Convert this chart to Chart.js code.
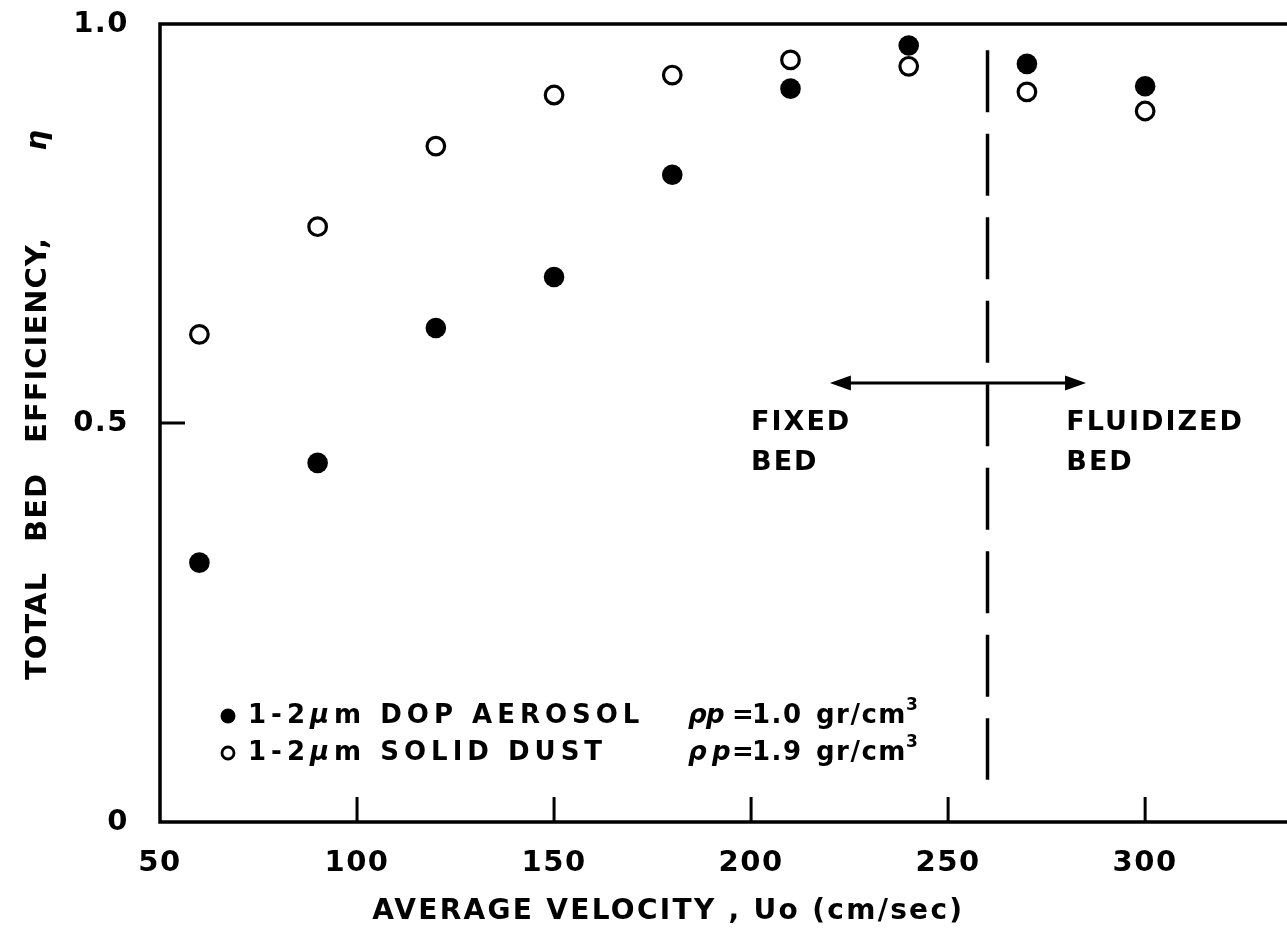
<!DOCTYPE html>
<html>
<head>
<meta charset="utf-8">
<script src="https://cdn.jsdelivr.net/npm/chart.js@4.4.1/dist/chart.umd.min.js"></script>
<style>
  html, body { margin: 0; padding: 0; background: #ffffff; overflow: hidden; }
  #wrap { width: 1287px; height: 950px; position: relative; }
  #chart { display: block; }
</style>
</head>
<body>
<div id="wrap"><canvas id="chart"></canvas></div>
<script>
// Superficial gas velocity Uo (cm/sec)
const velocity = [60, 90, 120, 150, 180, 210, 240, 270, 300];
// Total bed efficiency for the two aerosols
const dopEfficiency  = [0.325, 0.450, 0.619, 0.683, 0.811, 0.919, 0.973, 0.950, 0.922];
const dustEfficiency = [0.611, 0.746, 0.847, 0.911, 0.936, 0.955, 0.947, 0.915, 0.891];

const xTickValues = [50, 100, 150, 200, 250, 300];
const yTickValues = [0, 0.5, 1.0];
const yTickLabels = ['0', '0.5', '1.0'];

const seriesNames   = ['1-2\u03bcm DOP AEROSOL', '1-2\u03bcm SOLID DUST'];
const seriesDensity = ['1.0', '1.9'];

// Onset of fluidization and the regime labels either side of it
const regimeBoundary = 260;
const boundarySpan   = [0.967, 0.053];
const regimeArrow    = { from: 220, to: 285, level: 0.55 };
const regimeLabels   = [
  { x: 200, lines: ['FIXED', 'BED'] },
  { x: 280, lines: ['FLUIDIZED', 'BED'] }
];

const FONT = '"DejaVu Sans", sans-serif';
const INK = '#000000';

// Frame, inward tick marks, arrow, regime labels, legend and axis titles
const paperPlugin = {
  id: 'paper',
  beforeDraw(chart) {
    chart.ctx.letterSpacing = '1.5px';
  },
  beforeDatasetsDraw(chart) {
    const { ctx, chartArea: a, scales: { x, y } } = chart;
    ctx.save();
    ctx.strokeStyle = INK;
    ctx.lineWidth = 3.5;
    ctx.beginPath();
    ctx.moveTo(a.right + 4, a.top);
    ctx.lineTo(a.left, a.top);
    ctx.lineTo(a.left, a.bottom);
    ctx.lineTo(a.right + 4, a.bottom);
    ctx.stroke();

    ctx.lineWidth = 3;
    ctx.beginPath();
    x.ticks.forEach(t => {
      if (t.value <= x.min) return;
      const px = x.getPixelForValue(t.value);
      ctx.moveTo(px, a.bottom);
      ctx.lineTo(px, a.bottom - 25);
    });
    y.ticks.forEach(t => {
      if (t.value <= y.min || t.value >= y.max) return;
      const py = y.getPixelForValue(t.value);
      ctx.moveTo(a.left, py);
      ctx.lineTo(a.left + 25, py);
    });
    ctx.stroke();

    // double-headed arrow across the regime boundary
    const xl = x.getPixelForValue(regimeArrow.from);
    const xr = x.getPixelForValue(regimeArrow.to);
    const ya = y.getPixelForValue(regimeArrow.level);
    const head = 21, half = 7.5;
    ctx.lineWidth = 3;
    ctx.beginPath();
    ctx.moveTo(xl + head - 2, ya);
    ctx.lineTo(xr - head + 2, ya);
    ctx.stroke();
    ctx.fillStyle = INK;
    ctx.beginPath();
    ctx.moveTo(xl, ya); ctx.lineTo(xl + head, ya - half); ctx.lineTo(xl + head, ya + half); ctx.closePath();
    ctx.moveTo(xr, ya); ctx.lineTo(xr - head, ya - half); ctx.lineTo(xr - head, ya + half); ctx.closePath();
    ctx.fill();

    // regime labels
    ctx.font = 'bold 27px ' + FONT;
    ctx.letterSpacing = '2px';
    ctx.textAlign = 'left';
    ctx.textBaseline = 'middle';
    regimeLabels.forEach(r => {
      const px = x.getPixelForValue(r.x);
      r.lines.forEach((line, i) => {
        ctx.fillText(line, px, y.getPixelForValue(0.5) + i * 40);
      });
    });
    ctx.restore();
  },
  afterDraw(chart) {
    const { ctx, chartArea: a, scales: { x, y } } = chart;
    ctx.save();
    ctx.fillStyle = INK;
    ctx.strokeStyle = INK;
    ctx.textBaseline = 'middle';
    ctx.textAlign = 'left';

    // legend drawn from the two scatter series
    const regular = 'bold 26px ' + FONT;
    const italic = 'italic bold 26px ' + FONT;
    [0, 1].forEach(i => {
      const ds = chart.data.datasets[i];
      const rowY = a.bottom - 106 + i * 37;
      const mx = a.left + 68;
      ctx.beginPath();
      if (ds.backgroundColor === INK) {
        ctx.arc(mx, rowY, 7.5, 0, Math.PI * 2);
        ctx.fill();
      } else {
        ctx.lineWidth = 2.8;
        ctx.arc(mx, rowY, 6, 0, Math.PI * 2);
        ctx.stroke();
      }
      ctx.letterSpacing = '5px';
      let cx = a.left + 88;
      const parts = seriesNames[i].split('\u03bc');
      const runs = [[parts[0], regular], ['\u03bc', italic], [parts[1], regular]];
      runs.forEach(([txt, f]) => { ctx.font = f; ctx.fillText(txt, cx, rowY); cx += ctx.measureText(txt).width; });

      ctx.letterSpacing = '1.5px';
      ctx.font = italic;
      ctx.fillText('\u03c1', a.left + 528, rowY);
      ctx.fillText('p', a.left + (i === 0 ? 546 : 552), rowY);
      ctx.font = regular;
      ctx.fillText('=', a.left + 572, rowY);
      ctx.fillText(seriesDensity[i], a.left + 592, rowY);
      cx = a.left + 656;
      ctx.fillText('gr/cm', cx, rowY);
      cx += ctx.measureText('gr/cm').width;
      ctx.font = 'bold 17px ' + FONT;
      ctx.fillText('3', cx - 1, rowY - 10);
    });

    // horizontal axis title
    ctx.textAlign = 'center';
    ctx.font = 'bold 28px ' + FONT;
    ctx.letterSpacing = '2.3px';
    ctx.fillText('AVERAGE VELOCITY , Uo (cm/sec)', x.getPixelForValue(179), a.bottom + 90);

    // vertical axis title, reading upward from near the foot of the axis
    ctx.translate(38, y.getPixelForValue(0.178));
    ctx.rotate(-Math.PI / 2);
    ctx.textAlign = 'left';
    ctx.font = 'bold 29px ' + FONT;
    ctx.letterSpacing = '1px';
    ctx.wordSpacing = '19px';
    ctx.fillText('TOTAL BED EFFICIENCY,', 0, 0);
    ctx.font = 'italic bold 29px ' + FONT;
    ctx.textAlign = 'right';
    ctx.letterSpacing = '0px';
    ctx.fillText('\u03b7', y.getPixelForValue(0.178) - y.getPixelForValue(0.867), 0);
    ctx.restore();
  }
};

const toPoints = ys => velocity.map((v, i) => ({ x: v, y: ys[i] }));
const noPadding = s => { s.paddingTop = 0; s.paddingBottom = 0; s.paddingLeft = 0; s.paddingRight = 0; };

new Chart(document.getElementById('chart'), {
  type: 'scatter',
  data: {
    datasets: [
      {
        label: seriesNames[0],
        data: toPoints(dopEfficiency),
        pointStyle: 'circle',
        pointRadius: 10.3,
        backgroundColor: INK,
        borderColor: INK,
        borderWidth: 0
      },
      {
        label: seriesNames[1],
        data: toPoints(dustEfficiency),
        pointStyle: 'circle',
        pointRadius: 8.8,
        backgroundColor: '#ffffff',
        borderColor: INK,
        borderWidth: 3.2
      },
      {
        label: 'boundary',
        type: 'line',
        data: boundarySpan.map(v => ({ x: regimeBoundary, y: v })),
        borderColor: INK,
        borderWidth: 3.5,
        borderDash: [62, 21.5],
        pointRadius: 0,
        fill: false
      }
    ]
  },
  options: {
    responsive: true,
    maintainAspectRatio: false,
    animation: false,
    events: [],
    layout: { autoPadding: false, padding: { top: 24, right: 0, left: 0, bottom: 0 } },
    plugins: {
      legend: { display: false },
      tooltip: { enabled: false }
    },
    scales: {
      x: {
        type: 'linear',
        min: 50,
        max: 336,
        grid: { display: false, drawTicks: false },
        border: { display: false },
        afterBuildTicks: s => { s.ticks = xTickValues.map(v => ({ value: v })); },
        afterFit: s => { s.height = 128; noPadding(s); },
        ticks: {
          color: INK,
          padding: 24,
          maxRotation: 0,
          autoSkip: false,
          font: { family: FONT, size: 29, weight: 'bold' }
        }
      },
      y: {
        type: 'linear',
        min: 0,
        max: 1,
        grid: { display: false, drawTicks: false },
        border: { display: false },
        afterBuildTicks: s => { s.ticks = yTickValues.map(v => ({ value: v })); },
        afterFit: s => { s.width = 160; noPadding(s); },
        ticks: {
          color: INK,
          padding: 31,
          autoSkip: false,
          font: { family: FONT, size: 29, weight: 'bold' },
          callback: v => yTickLabels[yTickValues.indexOf(v)]
        }
      }
    }
  },
  plugins: [paperPlugin]
});
</script>
</body>
</html>
